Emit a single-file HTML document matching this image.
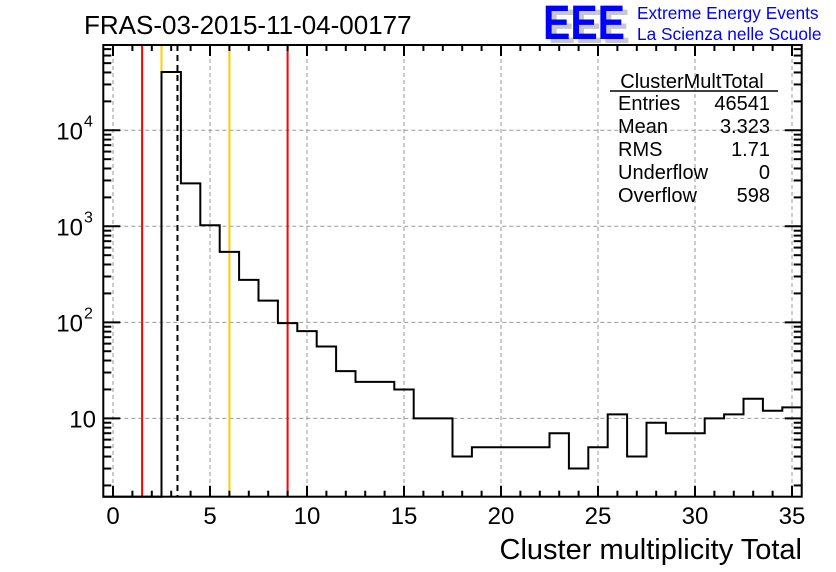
<!DOCTYPE html>
<html><head><meta charset="utf-8"><style>
html,body{margin:0;padding:0;background:#fff;}
svg{display:block;font-family:"Liberation Sans",Arial,sans-serif;}
</style></head><body>
<svg id="chart" width="836" height="572" viewBox="0 0 836 572" xmlns="http://www.w3.org/2000/svg">
<rect x="0" y="0" width="836" height="572" fill="#fff"/>
<text x="84" y="34" font-size="26" fill="#000">FRAS-03-2015-11-04-00177</text>
<g>
<text x="548" y="43" font-size="48" font-weight="bold" fill="#c8c8c8" textLength="82" lengthAdjust="spacingAndGlyphs">EEE</text>
<text x="543" y="39" font-size="48" font-weight="bold" fill="#0000ff" textLength="82" lengthAdjust="spacingAndGlyphs">EEE</text>
<text x="637" y="19" font-size="17.3" fill="#0000ff">Extreme Energy Events</text>
<text x="637" y="40" font-size="17.3" fill="#0000ff">La Scienza nelle Scuole</text>
</g>
<g id="grid"></g>
<g id="lines"></g>
<g id="hist"></g>
<g id="axes"></g>
<g font-size="20" fill="#000">
<text x="692" y="88" text-anchor="middle">ClusterMultTotal</text>
<line x1="610" y1="91" x2="778" y2="91" stroke="#000" stroke-width="1.5"/>
<text x="618" y="110">Entries</text><text x="770" y="110" text-anchor="end">46541</text>
<text x="618" y="133">Mean</text><text x="770" y="133" text-anchor="end">3.323</text>
<text x="618" y="156">RMS</text><text x="770" y="156" text-anchor="end">1.71</text>
<text x="618" y="179">Underflow</text><text x="770" y="179" text-anchor="end">0</text>
<text x="618" y="202">Overflow</text><text x="770" y="202" text-anchor="end">598</text>
</g>
<text x="802" y="559" font-size="29" text-anchor="end" fill="#000">Cluster multiplicity Total</text>
</svg>
<script>
const binCenters = [0,1,2,3,4,5,6,7,8,9,10,11,12,13,14,15,16,17,18,19,20,21,22,23,24,25,26,27,28,29,30,31,32,33,34,35];
const counts = [0,0,0,40400,2800,1025,542,277,168,98,81,56,31,24,24,20,10,10,4,5,5,5,5,7,3,5,11,4,9,7,7,10,11,16,12,13];
const xTicks = [0,5,10,15,20,25,30,35];
const yTicks = [10,100,1000,10000];
const yTickLabels = [["10",""],["10","2"],["10","3"],["10","4"]];
const redLines = [1.5,9];
const yellowLines = [2.5,6];
const meanValue = 3.323;

const L=103.3,R=801.7,T=45,B=496.7;
const xMin=-0.5,xMax=35.5,logMin=0.184,logMax=4.888;
const X=v=>L+(v-xMin)/(xMax-xMin)*(R-L);
const Y=v=>B-(Math.log10(v)-logMin)/(logMax-logMin)*(B-T);
const NS="http://www.w3.org/2000/svg";
function mk(tag,attrs,parent){const e=document.createElementNS(NS,tag);for(const k in attrs)e.setAttribute(k,attrs[k]);parent.appendChild(e);return e;}
const grid=document.getElementById('grid'),lines=document.getElementById('lines'),hist=document.getElementById('hist'),axes=document.getElementById('axes');

xTicks.forEach(t=>{const g=mk('line',{x1:X(t),x2:X(t),y1:T,y2:B,stroke:'#999','stroke-width':1,'stroke-dasharray':'4,3'},grid);

});
yTicks.forEach(t=>{const g=mk('line',{x1:L,x2:R,y1:Y(t),y2:Y(t),stroke:'#999','stroke-width':1,'stroke-dasharray':'4,3'},grid);

});

redLines.forEach(v=>{const l=mk('line',{x1:X(v),x2:X(v),y1:T,y2:B,stroke:'#ff0000','stroke-width':2},lines);

});
yellowLines.forEach(v=>{const l=mk('line',{x1:X(v),x2:X(v),y1:T,y2:B,stroke:'#ffcc00','stroke-width':2},lines);

});
const ml=mk('line',{x1:X(meanValue),x2:X(meanValue),y1:T,y2:B,stroke:'#000','stroke-width':2,'stroke-dasharray':'6,4'},lines);



let d='';
binCenters.forEach((c,i)=>{
  const v=counts[i];const y=v>0?Math.max(T,Math.min(B,Y(v))):B;
  const x0=X(c-0.5),x1=X(c+0.5);
  if(i===0)d+=`M${x0},${y}`;else d+=`L${x0},${y}`;
  d+=`L${x1},${y}`;
});
const p=mk('path',{d:d,fill:'none',stroke:'#000','stroke-width':2},hist);



const fr=mk('rect',{x:L,y:T,width:R-L,height:B-T,fill:'none',stroke:'#000','stroke-width':2},axes);


for(let v=0;v<=35;v++){const maj=v%5===0;const len=maj?11:6;
 mk('line',{x1:X(v),x2:X(v),y1:B,y2:B-len,stroke:'#000','stroke-width':2},axes);
 mk('line',{x1:X(v),x2:X(v),y1:T,y2:T+len,stroke:'#000','stroke-width':2},axes);}
xTicks.forEach(t=>{const tx=mk('text',{x:X(t),y:524,'font-size':24,'text-anchor':'middle'},axes);tx.textContent=String(t);

});
for(let e=0;e<=4;e++){for(let m=1;m<=9;m++){const v=m*Math.pow(10,e);const lv=Math.log10(v);if(lv<logMin||lv>logMax)continue;
 const len=m===1?17:8;
 mk('line',{x1:L,x2:L+len,y1:Y(v),y2:Y(v),stroke:'#000','stroke-width':2},axes);
 mk('line',{x1:R,x2:R-len,y1:Y(v),y2:Y(v),stroke:'#000','stroke-width':2},axes);}}
yTicks.forEach((t,i)=>{const tx=mk('text',{x:yTickLabels[i][1]?83:96,y:Y(t)+9,'font-size':24,'text-anchor':'end'},axes);tx.textContent=yTickLabels[i][0];


if(yTickLabels[i][1]){const s=mk('text',{x:84,y:Y(t)-4,'font-size':16},axes);s.textContent=yTickLabels[i][1];

}});
</script>
</body></html>
